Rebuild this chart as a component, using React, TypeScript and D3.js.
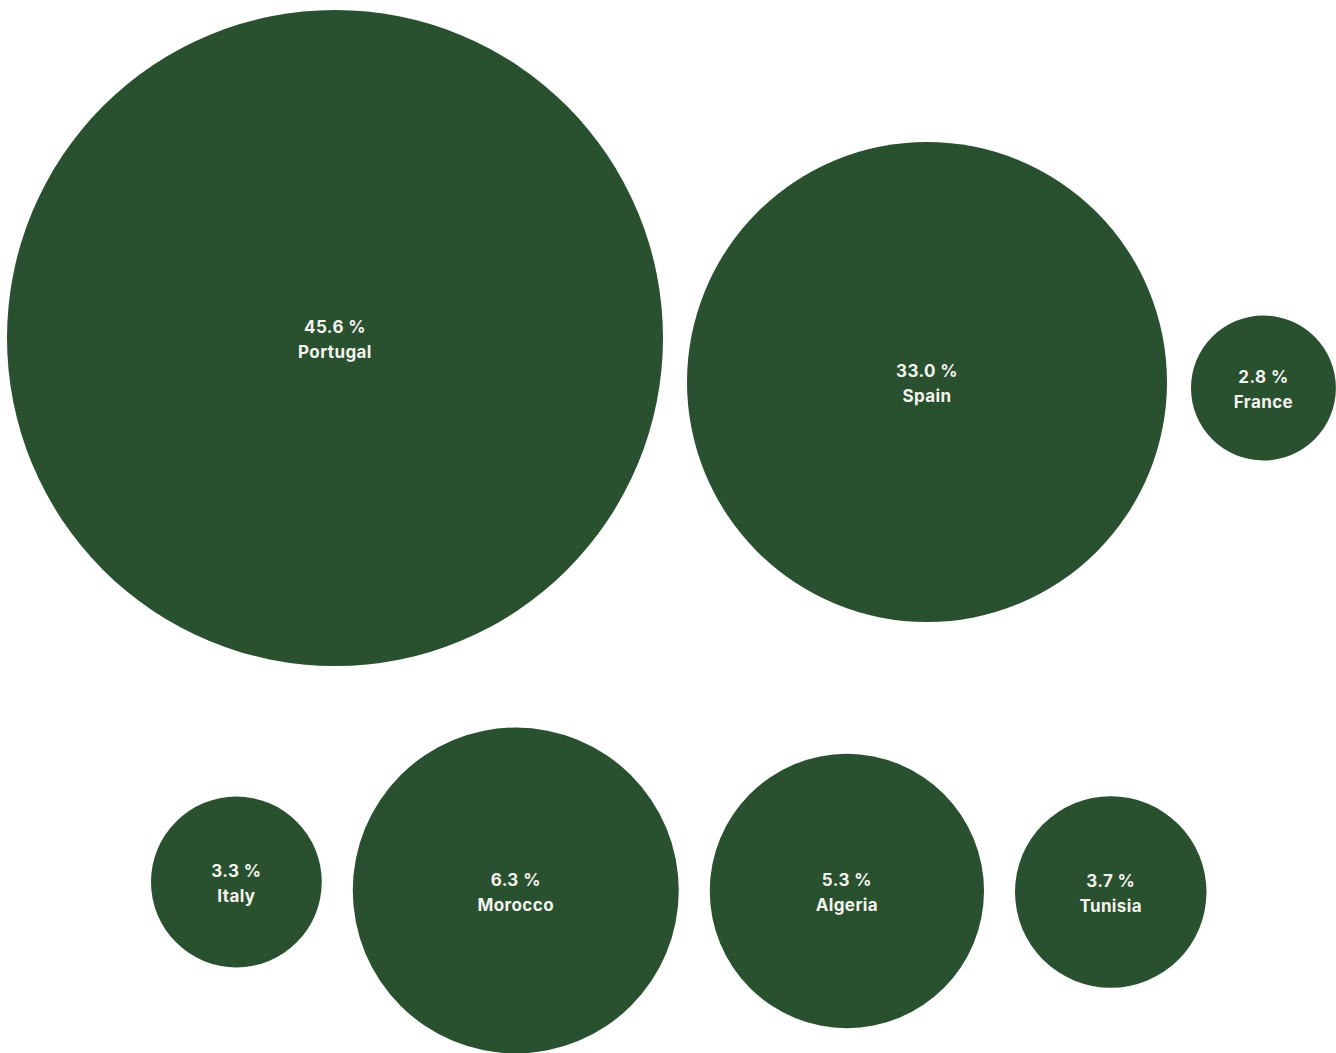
import React from "react";
import * as d3 from "d3";

// ---- data ----
const countries = ["Portugal", "Spain", "France", "Italy", "Morocco", "Algeria", "Tunisia"];
const shares = [45.6, 33.0, 2.8, 3.3, 6.3, 5.3, 3.7];
const rowOf = [0, 0, 0, 1, 1, 1, 1];

// ---- layout / style ----
const W = 1336;
const H = 1053;
const FILL = "#29502f";
const TEXT = "#f4f3ee";
const rows = [
  { x0: 7, gap: 24, cy: 388, nudge: [-50, -6, 0] },
  { x0: 151, gap: 31, cy: 891, nudge: [-9, -0.5, 0, 1] },
];

const rScale = d3.scaleLinear().domain([0, 6.3, 33, 45.6]).range([0, 163, 240, 328]);

type Node = { name: string; value: number; r: number; cx: number; cy: number };

function layout(): Node[] {
  const out: Node[] = [];
  rows.forEach((row, ri) => {
    let x = row.x0;
    let k = 0;
    countries.forEach((name, i) => {
      if (rowOf[i] !== ri) return;
      const r = rScale(shares[i]);
      const cx = x + r;
      x = cx + r + row.gap;
      out.push({ name, value: shares[i], r, cx, cy: row.cy + (row.nudge[k] || 0) });
      k++;
    });
  });
  return out;
}

export default function App() {
  const nodes = layout();
  const fmt = d3.format(".1f");
  const textProps = {
    textAnchor: "middle" as const,
    fill: TEXT,
    fontFamily: "Inter, 'Noto Sans', sans-serif",
    fontWeight: 700,
    fontSize: 17,
    letterSpacing: 0.4,
  };
  return (
    <svg
      width={W}
      height={H}
      viewBox={`0 0 ${W} ${H}`}
      style={{ position: "absolute", left: 0, top: 0, background: "#ffffff" }}
    >
      {nodes.map((n) => (
        <g key={n.name}>
          <circle cx={n.cx} cy={n.cy} r={n.r} fill={FILL} />
          <text x={n.cx} y={n.cy - 5} {...textProps}>
            {fmt(n.value)} %
          </text>
          <text x={n.cx} y={n.cy + 20} {...textProps}>
            {n.name}
          </text>
        </g>
      ))}
    </svg>
  );
}
